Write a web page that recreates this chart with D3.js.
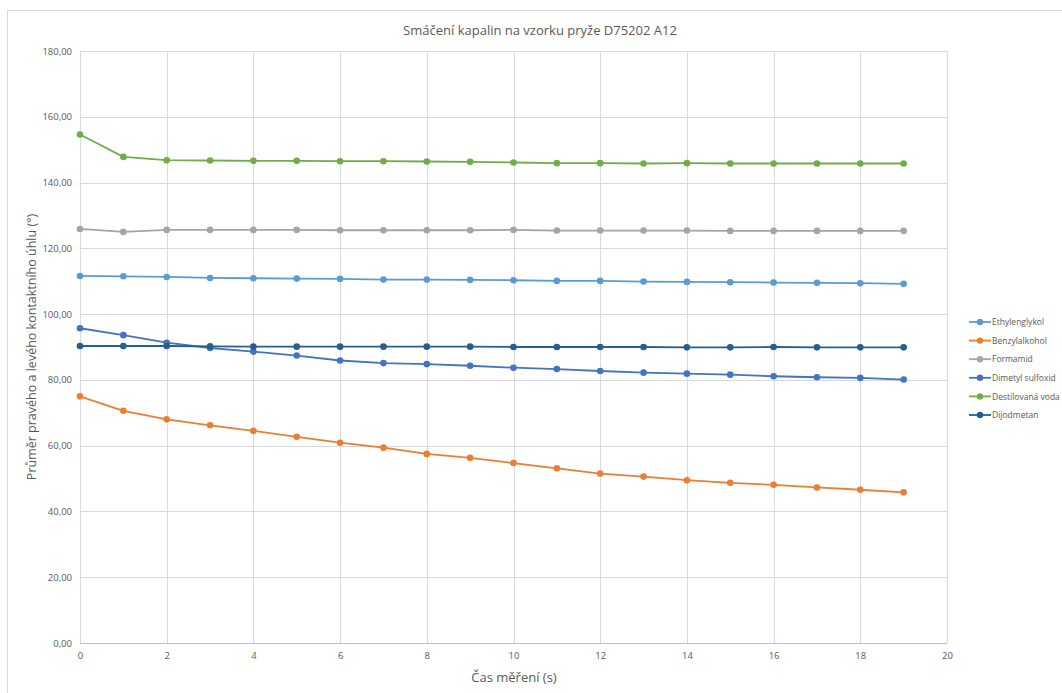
<!DOCTYPE html>
<html>
<head>
<meta charset="utf-8">
<script src="https://cdn.jsdelivr.net/npm/d3@7"></script>
<style>
  body { margin: 0; background: #fff; }
  text { font-family: "Open Sans", "Noto Sans", sans-serif; fill: #595959; }
</style>
</head>
<body>
<div id="chart"></div>
<script>
// time of measurement (s)
var times = d3.range(0, 20);

var seriesNames = ["Ethylenglykol", "Benzylalkohol", "Formamid", "Dimetyl sulfoxid", "Destilovaná voda", "Dijodmetan"];
var seriesColors = ["#5b9bd5", "#ed7d31", "#a5a5a5", "#4472c4", "#70ad47", "#255e91"];

var ethylenglykol = [111.6, 111.5, 111.3, 111.0, 110.9, 110.8, 110.7, 110.5, 110.5, 110.4, 110.3, 110.1, 110.1, 109.9, 109.8, 109.7, 109.6, 109.5, 109.4, 109.2];
var benzylalkohol = [75.0, 70.6, 68.0, 66.2, 64.5, 62.7, 60.9, 59.4, 57.5, 56.3, 54.7, 53.1, 51.5, 50.6, 49.5, 48.7, 48.1, 47.3, 46.6, 45.8];
var formamid = [125.9, 125.0, 125.6, 125.6, 125.6, 125.6, 125.5, 125.5, 125.5, 125.5, 125.6, 125.4, 125.4, 125.4, 125.4, 125.3, 125.3, 125.3, 125.3, 125.3];
var dimetylSulfoxid = [95.7, 93.6, 91.3, 89.7, 88.6, 87.4, 85.9, 85.1, 84.8, 84.3, 83.7, 83.3, 82.7, 82.2, 81.9, 81.6, 81.1, 80.8, 80.6, 80.1];
var destilovanaVoda = [154.6, 147.8, 146.8, 146.7, 146.6, 146.6, 146.5, 146.5, 146.4, 146.3, 146.1, 145.9, 145.9, 145.8, 145.9, 145.8, 145.8, 145.8, 145.8, 145.8];
var dijodmetan = [90.3, 90.3, 90.3, 90.2, 90.1, 90.1, 90.1, 90.1, 90.1, 90.1, 90.0, 90.0, 90.0, 90.0, 89.9, 89.9, 90.0, 89.9, 89.9, 89.9];

var seriesValues = [ethylenglykol, benzylalkohol, formamid, dimetylSulfoxid, destilovanaVoda, dijodmetan];

var xTicks = d3.range(0, 21, 2);
var yTicks = d3.range(0, 181, 20);

var W = 1062, H = 693;
var margin = { top: 51, left: 80, right: 115, bottom: 50 };
var width = 947 - margin.left;
var height = 643 - margin.top;

var svg = d3.select("#chart")
  .append("svg")
  .attr("width", W)
  .attr("height", H);

// chart frame
svg.append("rect")
  .attr("x", 7.5).attr("y", 10.5)
  .attr("width", W).attr("height", H)
  .attr("fill", "none")
  .attr("stroke", "#d9d9d9");

var g = svg.append("g")
  .attr("transform", "translate(" + margin.left + "," + margin.top + ")");

var x = d3.scaleLinear().domain([0, 20]).range([0, width]);
var y = d3.scaleLinear().domain([0, 180]).range([height, 0]);

// grid
g.append("g")
  .selectAll("line.h")
  .data(yTicks)
  .join("line")
  .attr("x1", 0).attr("x2", width)
  .attr("y1", function (d) { return Math.round(y(d)) + 0.5; })
  .attr("y2", function (d) { return Math.round(y(d)) + 0.5; })
  .attr("stroke", function (d) { return d === 0 ? "#bfbfbf" : "#d9d9d9"; });

g.append("g")
  .selectAll("line.v")
  .data(xTicks)
  .join("line")
  .attr("y1", 0).attr("y2", height)
  .attr("x1", function (d) { return Math.round(x(d)) + 0.5; })
  .attr("x2", function (d) { return Math.round(x(d)) + 0.5; })
  .attr("stroke", "#d9d9d9");

// axes (labels only)
var yAxis = g.append("g")
  .call(d3.axisLeft(y).tickValues(yTicks).tickSize(0).tickPadding(8)
    .tickFormat(function (d) { return d3.format(".2f")(d).replace(".", ","); }));
yAxis.select(".domain").remove();
yAxis.selectAll("text").style("font-size", "9.5px").attr("fill", "#595959");

var xAxis = g.append("g")
  .attr("transform", "translate(0," + height + ")")
  .call(d3.axisBottom(x).tickValues(xTicks).tickSize(0).tickPadding(9));
xAxis.select(".domain").remove();
xAxis.selectAll("text").style("font-size", "9.5px").attr("fill", "#595959");

// lines
var line = d3.line()
  .x(function (d, i) { return x(times[i]); })
  .y(function (d) { return y(d); });

seriesValues.forEach(function (vals, k) {
  var sg = g.append("g");
  sg.append("path")
    .datum(vals)
    .attr("d", line)
    .attr("fill", "none")
    .attr("stroke", seriesColors[k])
    .attr("stroke-width", 1.8);
  sg.selectAll("circle")
    .data(vals)
    .join("circle")
    .attr("cx", function (d, i) { return x(times[i]); })
    .attr("cy", function (d) { return y(d); })
    .attr("r", 3.3)
    .attr("fill", seriesColors[k]);
});

// titles
svg.append("text")
  .attr("x", 540).attr("y", 35)
  .attr("text-anchor", "middle")
  .style("font-size", "13px")
  .text("Smáčení kapalin na vzorku pryže D75202 A12");

svg.append("text")
  .attr("x", 514).attr("y", 682)
  .attr("text-anchor", "middle")
  .style("font-size", "13px")
  .text("Čas měření (s)");

svg.append("text")
  .attr("transform", "translate(36,347) rotate(-90)")
  .attr("text-anchor", "middle")
  .style("font-size", "12.5px")
  .text("Průměr pravého a levého kontaktního úhlu (°)");

// legend
var legend = svg.append("g")
  .attr("transform", "translate(969,322)")
  .selectAll("g")
  .data(seriesNames)
  .join("g")
  .attr("transform", function (d, i) { return "translate(0," + i * 18.6 + ")"; });

legend.append("line")
  .attr("x1", 0).attr("x2", 22)
  .attr("stroke", function (d, i) { return seriesColors[i]; })
  .attr("stroke-width", 1.8);
legend.append("circle")
  .attr("cx", 11).attr("r", 3.2)
  .attr("fill", function (d, i) { return seriesColors[i]; });
legend.append("text")
  .attr("x", 23).attr("y", 3.2)
  .style("font-size", "8.5px")
  .text(function (d) { return d; });
</script>
</body>
</html>
